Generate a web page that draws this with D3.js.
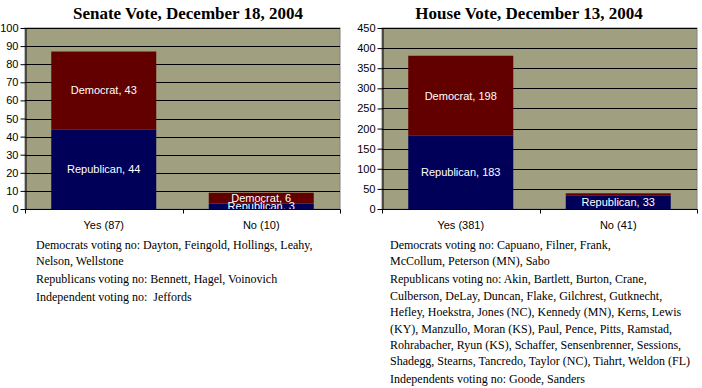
<!DOCTYPE html>
<html>
<head>
<meta charset="utf-8">
<script src="https://cdn.jsdelivr.net/npm/d3@7"></script>
<style>
  body { margin: 0; background: #fff; }
  svg { display: block; }
</style>
</head>
<body>
<div id="chart"></div>
<script>
// vote categories and party counts
var senateCats = ["Yes (87)", "No (10)"];
var senateRep = [44, 3];
var senateDem = [43, 6];
var senateTicks = [0, 10, 20, 30, 40, 50, 60, 70, 80, 90, 100];

var houseCats = ["Yes (381)", "No (41)"];
var houseRep = [183, 33];
var houseDem = [198, 6];
var houseTicks = [0, 50, 100, 150, 200, 250, 300, 350, 400, 450];

// which labels are shown (House "No" Democrat slice has none)
var senateDemLabel = [true, true];
var houseDemLabel = [true, false];

var senateNotes = [
  ["Democrats voting no: Dayton, Feingold, Hollings, Leahy,", "Nelson, Wellstone"],
  ["Republicans voting no: Bennett, Hagel, Voinovich"],
  ["Independent voting no:  Jeffords"]
];
var houseNotes = [
  ["Democrats voting no: Capuano, Filner, Frank,", "McCollum, Peterson (MN), Sabo"],
  ["Republicans voting no: Akin, Bartlett, Burton, Crane,",
   "Culberson, DeLay, Duncan, Flake, Gilchrest, Gutknecht,",
   "Hefley, Hoekstra, Jones (NC), Kennedy (MN), Kerns, Lewis",
   "(KY), Manzullo, Moran (KS), Paul, Pence, Pitts, Ramstad,",
   "Rohrabacher, Ryun (KS), Schaffer, Sensenbrenner, Sessions,",
   "Shadegg, Stearns, Tancredo, Taylor (NC), Tiahrt, Weldon (FL)"],
  ["Independents voting no: Goode, Sanders"]
];

var W = 702, H = 388;
var svg = d3.select("#chart").append("svg")
  .attr("width", W)
  .attr("height", H);

var drawChart = function(opt) {
  var x = d3.scaleBand()
    .domain(opt.cats)
    .range([opt.left, opt.right])
    .paddingInner(1 / 3)
    .paddingOuter(1 / 6);

  var y = d3.scaleLinear()
    .domain([0, opt.max])
    .range([209, 28]);

  var g = svg.append("g");

  g.append("text")
    .attr("x", opt.titleX)
    .attr("y", 19)
    .attr("text-anchor", "middle")
    .style("font-family", "'Liberation Serif', 'Times New Roman', serif")
    .style("font-weight", "bold")
    .style("font-size", "17px")
    .text(opt.title);

  // plot area
  g.append("rect")
    .attr("x", opt.left)
    .attr("y", y(opt.max))
    .attr("width", opt.right - opt.left)
    .attr("height", y(0) - y(opt.max))
    .attr("fill", "#a0a080")
    .attr("stroke", "#808080")
    .attr("stroke-width", 1);

  g.selectAll(".grid")
    .data(opt.ticks.filter(function(d) { return d > 0; }))
    .enter().append("line")
    .attr("x1", opt.left)
    .attr("x2", opt.right)
    .attr("y1", function(d) { return Math.round(y(d)) + 0.5; })
    .attr("y2", function(d) { return Math.round(y(d)) + 0.5; })
    .attr("stroke", "#000");

  var clipId = "clip" + opt.key;
  g.append("clipPath").attr("id", clipId)
    .append("rect")
    .attr("x", opt.left)
    .attr("y", y(opt.max))
    .attr("width", opt.right - opt.left)
    .attr("height", y(0) - y(opt.max));

  var rows = opt.cats.map(function(c, i) {
    return { cat: c, rep: opt.rep[i], dem: opt.dem[i], showDem: opt.showDem[i] };
  });

  // Republican segment
  g.selectAll(".rep")
    .data(rows)
    .enter().append("rect")
    .attr("x", function(d) { return x(d.cat); })
    .attr("width", x.bandwidth())
    .attr("y", function(d) { return y(d.rep); })
    .attr("height", function(d) { return y(0) - y(d.rep); })
    .attr("fill", "#000058");

  // Democrat segment
  g.selectAll(".dem")
    .data(rows)
    .enter().append("rect")
    .attr("x", function(d) { return x(d.cat); })
    .attr("width", x.bandwidth())
    .attr("y", function(d) { return y(d.rep + d.dem); })
    .attr("height", function(d) { return y(d.rep) - y(d.rep + d.dem); })
    .attr("fill", "#620000");

  var labels = g.append("g")
    .attr("clip-path", "url(#" + clipId + ")")
    .style("font-family", "'Liberation Sans', Arial, sans-serif")
    .style("font-size", "11px")
    .attr("fill", "#fff")
    .attr("text-anchor", "middle");

  labels.selectAll(".lrep")
    .data(rows)
    .enter().append("text")
    .attr("x", function(d) { return x(d.cat) + x.bandwidth() / 2; })
    .attr("y", function(d) { return y(d.rep / 2); })
    .attr("dy", "0.36em")
    .text(function(d) { return "Republican, " + d.rep; });

  labels.selectAll(".ldem")
    .data(rows.filter(function(d) { return d.showDem; }))
    .enter().append("text")
    .attr("x", function(d) { return x(d.cat) + x.bandwidth() / 2; })
    .attr("y", function(d) { return y(d.rep + d.dem / 2); })
    .attr("dy", "0.36em")
    .text(function(d) { return "Democrat, " + d.dem; });

  // axes
  var axisY = d3.axisLeft(y)
    .tickValues(opt.ticks)
    .tickSize(5)
    .tickSizeOuter(0)
    .tickPadding(2);

  var gy = g.append("g")
    .attr("transform", "translate(" + (opt.left + 0.5) + ",0)")
    .call(axisY);
  gy.select(".domain").attr("stroke", "#000");
  gy.selectAll("text")
    .style("font-family", "'Liberation Sans', Arial, sans-serif")
    .style("font-size", "11px")
    .attr("fill", "#000");

  var base = Math.round(y(0)) + 0.5;
  g.append("line")
    .attr("x1", opt.left)
    .attr("x2", opt.right + 0.5)
    .attr("y1", base)
    .attr("y2", base)
    .attr("stroke", "#000");

  var edges = [opt.left, (opt.left + opt.right) / 2, opt.right];
  g.selectAll(".xt")
    .data(edges)
    .enter().append("line")
    .attr("x1", function(d) { return Math.round(d) + 0.5; })
    .attr("x2", function(d) { return Math.round(d) + 0.5; })
    .attr("y1", base)
    .attr("y2", base + 4)
    .attr("stroke", "#000");

  g.selectAll(".xl")
    .data(opt.cats)
    .enter().append("text")
    .attr("x", function(d) { return x(d) + x.bandwidth() / 2; })
    .attr("y", 229)
    .attr("text-anchor", "middle")
    .style("font-family", "'Liberation Sans', Arial, sans-serif")
    .style("font-size", "11px")
    .text(function(d) { return d; });

  // notes under the chart
  var notes = g.append("text")
    .style("font-family", "'Liberation Serif', 'Times New Roman', serif")
    .style("font-size", "12px")
    .style("white-space", "pre")
    .attr("fill", "#000");
  var ly = opt.noteY;
  opt.notes.forEach(function(par, pi) {
    if (pi > 0) ly += 1.5;
    par.forEach(function(line) {
      notes.append("tspan")
        .attr("x", opt.noteX)
        .attr("y", ly)
        .text(line);
      ly += 16.4;
    });
  });
};

drawChart({
  key: "s", title: "Senate Vote, December 18, 2004", titleX: 188,
  cats: senateCats, rep: senateRep, dem: senateDem, showDem: senateDemLabel,
  ticks: senateTicks, max: 100, left: 25, right: 340,
  notes: senateNotes, noteX: 36, noteY: 249
});

drawChart({
  key: "h", title: "House Vote, December 13, 2004", titleX: 529,
  cats: houseCats, rep: houseRep, dem: houseDem, showDem: houseDemLabel,
  ticks: houseTicks, max: 450, left: 382, right: 697,
  notes: houseNotes, noteX: 390, noteY: 249
});
</script>
</body>
</html>
